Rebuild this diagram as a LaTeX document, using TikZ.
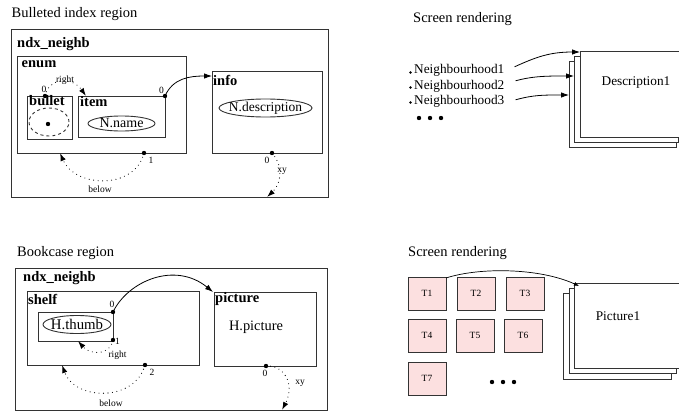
\documentclass[tikz,border=0pt]{standalone}
\usepackage{fontspec}
\setmainfont{Liberation Serif}
\usetikzlibrary{arrows.meta,shapes.geometric}
\definecolor{tpink}{HTML}{FCE0E0}
\definecolor{edge}{HTML}{333333}
\begin{document}
\begin{tikzpicture}[x=1pt,y=-1pt,
  box/.style={draw=edge, line width=0.9pt, inner sep=0pt, outer sep=0pt, anchor=north west},
  ttl/.style={font=\fontsize{14.5}{16}\selectfont\bfseries, inner sep=0pt, anchor=base west},
  heading/.style={font=\fontsize{14.5}{16}\selectfont, inner sep=0pt, anchor=base west},
  txt/.style={font=\fontsize{13.5}{15}\selectfont, inner sep=0pt},
  lbl/.style={font=\fontsize{9.5}{11}\selectfont, inner sep=0pt},
  oval/.style={ellipse, draw=edge, line width=0.9pt, inner sep=0pt},
  blob/.style={circle, fill=black, inner sep=0pt, minimum size=4.4pt},
  sdot/.style={circle, fill=black, inner sep=0pt, minimum size=2.6pt},
  dotarr/.style={line width=1.1pt, line cap=round, dash pattern=on 0pt off 4.5pt, -{Latex[length=8pt,width=5.5pt]}},
  solarr/.style={line width=0.8pt, -{Latex[length=8pt,width=5.5pt]}},
  smallarr/.style={line width=0.7pt, -{Latex[length=5pt,width=4pt]}},
  page/.style={box, fill=white},
  tbox/.style={box, fill=tpink, minimum width=38, minimum height=33, font=\fontsize{9.5}{11}\selectfont}
]
\useasboundingbox (0,0) rectangle (679,412);
\clip (0,0) rectangle (679,412);

% ================= top left =================
\node[heading] (cap1) at (11.5,17.6) {Bulleted index region};
\node[box, minimum width=317, minimum height=168] (out1) at (11,29) {};
\node[ttl] (ndx1) at (17,47.5) {ndx\_neighb};
\node[box, minimum width=169, minimum height=97] (enum) at (17,56) {};
\node[ttl] (enumt) at (21.5,67) {enum};
\node[box, minimum width=45, minimum height=43] (bullet) at (27,96) {};
\node[ttl] (bullett) at (29,105) {bullet};
\node[box, minimum width=87, minimum height=41] (item) at (78,96) {};
\node[ttl] (itemt) at (80,106) {item};
\node[oval, minimum width=67, minimum height=15] (nname) at (121.5,123.5) {};
\node[txt, font=\fontsize{14}{16}\selectfont] (nnamet) at (nname) {N.name};
\node[oval, dashed, minimum width=40, minimum height=28] (bell) at (49,122) {};
\node[blob] (bdot) at (48,124) {};
\node[box, minimum width=110, minimum height=82] (info) at (212,71) {};
\node[ttl] (infot) at (213,85) {info};
\node[oval, minimum width=93, minimum height=18] (ndesc) at (265.5,108) {};
\node[txt] (ndesct) at (ndesc) {N.description};

\node[blob] (p0a) at ([xshift=18]bullet.north west) {};
\node[lbl] (l0a) at (44,89.5) {0};
\node[blob] (p0b) at (item.north east) {};
\node[lbl] (l0b) at (161.5,90) {0};
\node[blob] (p1) at ([xshift=127]enum.south west) {};
\node[lbl] (l1) at (151,160) {1};
\node[blob] (p0c) at ([xshift=60]info.south west) {};
\node[lbl] (l0c) at (267,160) {0};
\coordinate (xyend1) at (267,197);

\draw[dotarr] (p0a.center) .. controls +(3,-18) and +(-14,-20) .. ([xshift=8]item.north west);
\node[lbl] (lright1) at (65,80) {right};
\draw[solarr] (p0b.center) .. controls +(8,-18) and +(-22,0) .. ([yshift=-5]info.north west);
\draw[dotarr] (p1.center) .. controls +(-9,37) and +(15,35) .. ([xshift=43]enum.south west);
\node[lbl] (lbelow1) at (100,189.5) {below};
\draw[dotarr] (p0c.center) .. controls +(13,15) and +(13,-12) .. (xyend1);
\node[lbl] (lxy1) at (282,171.5) {xy};

% ================= top right =================
\node[heading] (cap2) at (413,22.6) {Screen rendering};
\node[txt, anchor=base west, font=\fontsize{13.3}{15}\selectfont] (n1) at (414,74) {Neighbourhood1};
\node[txt, anchor=base west, font=\fontsize{13.3}{15}\selectfont] (n2) at (414,89) {Neighbourhood2};
\node[txt, anchor=base west, font=\fontsize{13.3}{15}\selectfont] (n3) at (414,104) {Neighbourhood3};
\node[sdot] (b1) at (410.5,72.5) {};
\node[sdot] (b2) at (410.5,87.5) {};
\node[sdot] (b3) at (410.5,102.5) {};
\node[blob] (e1) at (419,118) {};
\node[blob] (e2) at (430,118) {};
\node[blob] (e3) at (441,118) {};

\node[page, minimum width=107, minimum height=86] (pg3) at (569,61) {};
\node[page, minimum width=104, minimum height=86] (pg2) at (574,56) {};
\node[page, minimum width=115, minimum height=86] (pg1) at (580,51) {};
\node[txt, font=\fontsize{13.3}{15}\selectfont] (desc) at (636,83) {Description1};

\draw[solarr] ([xshift=10,yshift=4]n1.east) .. controls +(22,-10) and +(-30,0) .. ([yshift=-1]pg1.north west);
\draw[solarr] ([xshift=11,yshift=-10]n1.east) .. controls +(18,-5) and +(-25,0) .. ([yshift=-20]pg2.north west);
\draw[solarr] ([xshift=11,yshift=-29]n1.east) .. controls +(18,-5) and +(-25,0) .. ([yshift=-34]pg3.north west);

% ================= bottom left =================
\node[heading] (cap3) at (17,256.6) {Bookcase region};
\node[box, minimum width=312, minimum height=142] (out2) at (15,268) {};
\node[ttl] (ndx2) at (23,281) {ndx\_neighb};
\node[box, minimum width=172, minimum height=74] (shelf) at (27,291) {};
\node[ttl] (shelft) at (28,304) {shelf};
\node[box, minimum width=75, minimum height=29] (thumb) at (38,312) {};
\node[oval, minimum width=68, minimum height=18] (hthumb) at (77,324.5) {};
\node[txt, font=\fontsize{14.8}{17}\selectfont] (hthumbt) at (hthumb) {H.thumb};
\node[box, minimum width=102, minimum height=74] (picture) at (214,292) {};
\node[ttl] (picturet) at (215,302.5) {picture};
\node[txt, anchor=base, font=\fontsize{14.4}{16}\selectfont] (hpic) at (256,330) {H.picture};

\node[blob] (q0) at (thumb.north east) {};
\node[lbl] (m0) at (112,304.5) {0};
\node[blob] (q1) at ([yshift=1]thumb.south east) {};
\node[lbl, anchor=west] (m1) at (115,341) {1};
\node[blob] (q2) at ([xshift=118]shelf.south west) {};
\node[lbl] (m2) at (152,372.5) {2};
\node[blob] (q0b) at ([xshift=52]picture.south west) {};
\node[lbl] (m0b) at (265,373.5) {0};
\coordinate (xyend2) at (282,410);

\draw[solarr] (q0.center) .. controls +(15,-31) and +(-38,-31) .. ([xshift=-1]picture.north west);
\draw[dotarr] (q1.center) .. controls +(-3,16) and +(12,14) .. ([xshift=40]thumb.south west);
\node[lbl] (mright) at (117.5,355.5) {right};
\draw[dotarr] (q2.center) .. controls +(-10,37) and +(13,36) .. ([xshift=35]shelf.south west);
\node[lbl] (mbelow) at (111,403) {below};
\draw[dotarr] (q0b.center) .. controls +(19,-1) and +(13,-25) .. (xyend2);
\node[lbl] (mxy) at (300,383.5) {xy};

% ================= bottom right =================
\node[heading] (cap4) at (408,256.3) {Screen rendering};
\node[tbox] (t1) at (408,277) {T1};
\node[tbox] (t2) at (457,277) {T2};
\node[tbox] (t3) at (506,277) {T3};
\node[tbox] (t4) at (408,319) {T4};
\node[tbox] (t5) at (456,319) {T5};
\node[tbox] (t6) at (504,319) {T6};
\node[tbox] (t7) at (408,362) {T7};
\node[blob] (f1) at (492,382) {};
\node[blob] (f2) at (503,382) {};
\node[blob] (f3) at (514,382) {};

\node[page, minimum width=108, minimum height=86] (qg3) at (563,293) {};
\node[page, minimum width=107, minimum height=85] (qg2) at (569,288) {};
\node[page, minimum width=116, minimum height=85] (qg1) at (574,283) {};
\node[txt, font=\fontsize{13.3}{15}\selectfont] (pic1) at (618,316) {Picture1};

\draw[smallarr] ([yshift=-1]t1.north east) .. controls +(34,-11) and +(-39,-18) .. ([xshift=5,yshift=-3]qg1.north west);
\end{tikzpicture}
\end{document}
